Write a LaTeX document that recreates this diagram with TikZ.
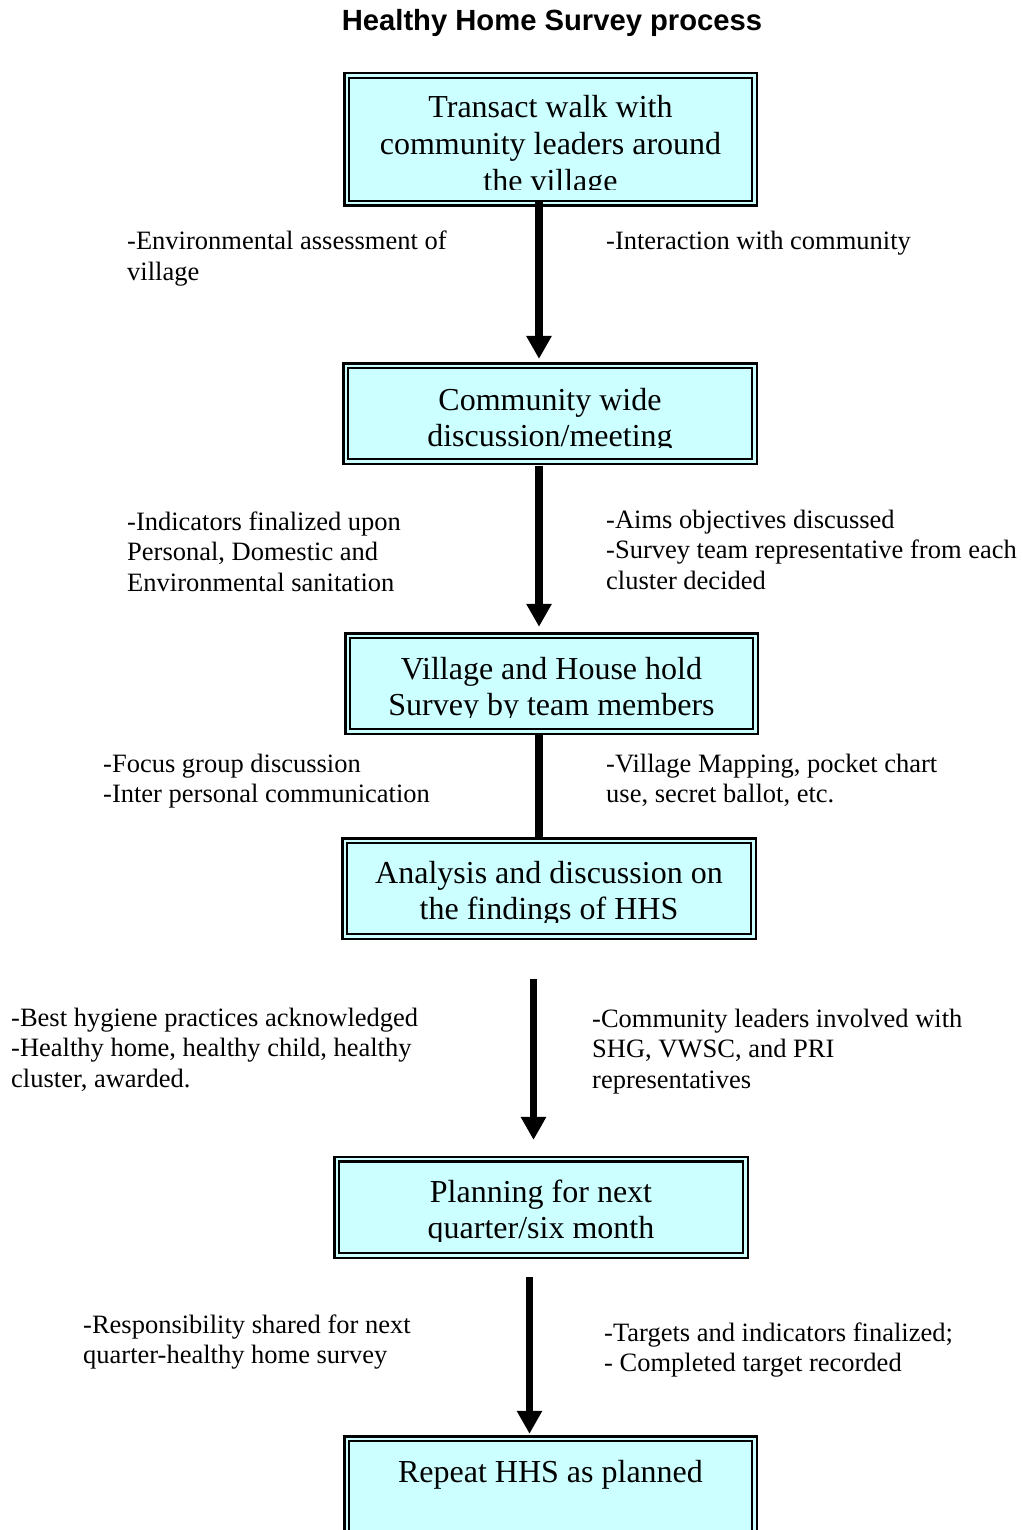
\documentclass[tikz,border=0pt]{standalone}
\usepackage{fontspec}
\setmainfont{Liberation Serif}
\newfontfamily\titlefont{Liberation Sans}
\usetikzlibrary{arrows.meta,calc}
\definecolor{boxfill}{HTML}{CCFFFF}
\newcommand\mycol[1]{\begin{tabular}[t]{@{}c@{}}#1\end{tabular}}
\newcommand\myleft[1]{\begin{tabular}[t]{@{}l@{}}#1\end{tabular}}
\tikzset{
  procbox/.style={rectangle, draw=black, fill=boxfill, line width=2.5pt,
    double=boxfill, double distance=2.3pt, inner sep=0pt},
  boxtxt/.style={inner sep=0pt, anchor=base, font=\fontsize{32}{36.8}\selectfont},
  lbl/.style={inner sep=0pt, anchor=base west, font=\fontsize{26.5}{30.6}\selectfont},
  flow/.style={line width=7.3pt, -{Triangle[width=24pt,length=23pt]}},
  flowline/.style={line width=7.3pt},
}
\begin{document}
\begin{tikzpicture}[x=1pt,y=-1pt]
\useasboundingbox (0,0) rectangle (1022,1530);
\clip (0,0) rectangle (1022,1530);

% title
\node[inner sep=0pt, anchor=base, font=\titlefont\bfseries\fontsize{29.2}{35}\selectfont] (title) at (552,31) {Healthy Home Survey process};

% boxes
\node[procbox, minimum width=407.7pt, minimum height=127.7pt] (b1) at (550.5,139.5) {};
\node[procbox, minimum width=408.7pt, minimum height=95.7pt] (b2) at (550,413.5) {};
\node[procbox, minimum width=407.7pt, minimum height=95.7pt] (b3) at (551.5,683.5) {};
\node[procbox, minimum width=408.7pt, minimum height=95.7pt] (b4) at (549,888.5) {};
\node[procbox, minimum width=408.7pt, minimum height=96.2pt] (b5) at (541,1207.25) {};
\node[procbox, minimum width=407.7pt, minimum height=127.7pt] (b6) at (550.5,1502.5) {};

% box texts (clipped at the bottom like the original text boxes)
\begin{scope}
\clip ($(b1.south west)+(0,-15)$) rectangle (b1.north east);
\node[boxtxt] (t1) at (550.5,118) {\mycol{Transact walk with\\community leaders around\\the village}};
\end{scope}
\begin{scope}
\clip ($(b2.south west)+(0,-15)$) rectangle (b2.north east);
\node[boxtxt] (t2) at (550,410) {\mycol{Community wide\\discussion/meeting}};
\end{scope}
\begin{scope}
\clip ($(b3.south west)+(0,-15)$) rectangle (b3.north east);
\node[boxtxt] (t3) at (551.5,679) {\mycol{Village and House hold\\Survey by team members}};
\end{scope}
\begin{scope}
\clip ($(b4.south west)+(0,-15)$) rectangle (b4.north east);
\node[boxtxt] (t4) at (549,883) {\mycol{Analysis and discussion on\\the findings of HHS}};
\end{scope}
\begin{scope}
\clip ($(b5.south west)+(0,-15)$) rectangle (b5.north east);
\node[boxtxt] (t5) at (541,1202) {\mycol{Planning for next\\quarter/six month}};
\end{scope}
\node[boxtxt] (t6) at (550.5,1482) {Repeat HHS as planned};

% connectors
\coordinate (ax1) at (539,0);
\coordinate (ax4) at (533.5,0);
\coordinate (ax5) at (529.5,0);
\draw[flow] ($(b1.south -| ax1)+(0,-5)$) -- ($(b2.north -| ax1)+(0,-5.5)$);
\draw[flow] ($(b2.south -| ax1)+(0,3)$) -- ($(b3.north -| ax1)+(0,-7.6)$);
\draw[flowline] (b3.south -| ax1) -- (b4.north -| ax1);
\draw[flow] ($(b4.south -| ax4)+(0,41.6)$) -- ($(b5.north -| ax4)+(0,-18)$);
\draw[flow] ($(b5.south -| ax5)+(0,20.6)$) -- ($(b6.north -| ax5)+(0,-3.6)$);

% side labels
\node[lbl] (l1a) at (127,250) {\myleft{-Environmental assessment of\\village}};
\node[lbl] (l1b) at (606,250) {\myleft{-Interaction with community}};
\node[lbl] (l2a) at (127,530) {\myleft{-Indicators finalized upon\\Personal, Domestic and\\Environmental sanitation}};
\node[lbl] (l2b) at (606,528) {\myleft{-Aims objectives discussed\\-Survey team representative from each\\cluster decided}};
\node[lbl] (l3a) at (103,772) {\myleft{-Focus group discussion\\-Inter personal communication}};
\node[lbl] (l3b) at (606,772) {\myleft{-Village Mapping, pocket chart\\use, secret ballot, etc.}};
\node[lbl] (l4a) at (11,1026) {\myleft{-Best hygiene practices acknowledged\\-Healthy home, healthy child, healthy\\cluster, awarded.}};
\node[lbl] (l4b) at (592,1027) {\myleft{-Community leaders involved with\\SHG, VWSC, and PRI\\representatives}};
\node[lbl] (l5a) at (83,1333) {\myleft{-Responsibility shared for next\\quarter-healthy home survey}};
\node[lbl] (l5b) at (604,1341) {\myleft{-Targets and indicators finalized;\\- Completed target recorded}};
\end{tikzpicture}
\end{document}
